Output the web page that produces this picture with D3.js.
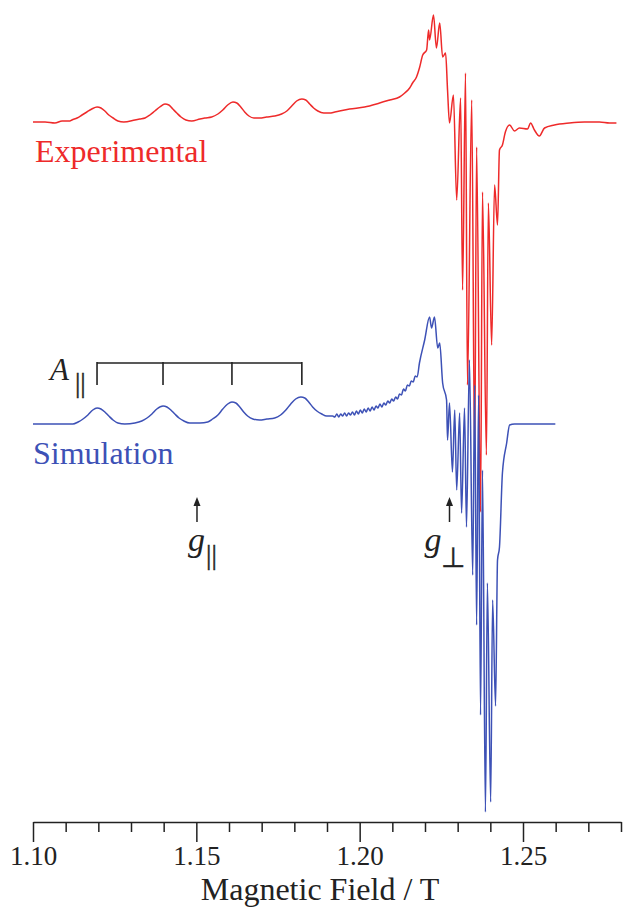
<!DOCTYPE html>
<html>
<head>
<meta charset="utf-8">
<script src="https://cdn.jsdelivr.net/npm/d3@7"></script>
<style>
body { margin: 0; background: #fff; }
svg { display: block; background: #fff; }
</style>
</head>
<body>
<svg width="624" height="909"></svg>
<script>
// magnetic field (T) and signal (arb. units)
var expField = [1.1000, 1.1037, 1.1067, 1.1089, 1.1113,
    1.1119, 1.1135, 1.1150, 1.1165, 1.1180, 1.1196, 1.1208, 1.1220, 1.1232, 1.1245, 1.1260, 1.1278,
    1.1312, 1.1327, 1.1343, 1.1358, 1.1373, 1.1388, 1.1404, 1.1416, 1.1428, 1.1440, 1.1453, 1.1468, 1.1486,
    1.1511, 1.1526, 1.1547, 1.1566, 1.1581, 1.1596, 1.1612, 1.1624, 1.1636, 1.1648, 1.1661, 1.1676, 1.1694,
    1.1715, 1.1740, 1.1761, 1.1777, 1.1792, 1.1807, 1.1823, 1.1835, 1.1847, 1.1859, 1.1872, 1.1890, 1.1908,
    1.1924, 1.1969, 1.2015, 1.2061, 1.2092, 1.2122, 1.2138, 1.2153, 1.2162, 1.2174, 1.2183,
    1.2193, 1.2205, 1.2211, 1.2214, 1.2226, 1.2235, 1.2245, 1.2254, 1.2263, 1.2269, 1.2275,
    1.2287, 1.2297, 1.2309, 1.2315, 1.2324, 1.2330, 1.2343, 1.2352, 1.2358, 1.2370, 1.2376,
    1.2388, 1.2394, 1.2404, 1.2413, 1.2422, 1.2428, 1.2437, 1.2446, 1.2459, 1.2474, 1.2489,
    1.2514, 1.2523, 1.2535, 1.2550, 1.2566, 1.2596, 1.2642, 1.2688, 1.2734, 1.2765, 1.2786];
var expSignal = [0, 0, -1, 1, 1,
    2, 4, 7, 10, 13, 15, 14, 11, 7, 4, 1, 0,
    2, 3, 4, 7, 11, 15, 18, 17, 13, 9, 5, 2, 1,
    3, 4, 5, 8, 12, 17, 20, 19, 15, 10, 6, 4, 4,
    5, 6, 8, 11, 16, 21, 23, 22, 18, 14, 11, 9, 9,
    10, 13, 15, 19, 22, 25, 29, 34, 39, 45, 54,
    67, 72, 92, 82, 107, 74, 99, 65, 69, 32, -1,
    27, -78, 24, -168, 49, -263, 22, -338, -25, -390, -70,
    -333, -81, -223, -63, -103, -28, -23, -10, -3, -9, -6,
    -7, -1, -8, -14, -6, -3, -1, 0, 0, -1, -1];

var simField = [1.1000, 1.1122, 1.1138, 1.1153, 1.1168, 1.1183, 1.1196, 1.1208, 1.1220, 1.1232,
    1.1245, 1.1260, 1.1281, 1.1312, 1.1333, 1.1349, 1.1364, 1.1379, 1.1398, 1.1410,
    1.1422, 1.1434, 1.1447, 1.1462, 1.1480, 1.1511, 1.1535, 1.1550, 1.1566, 1.1581,
    1.1596, 1.1609, 1.1621, 1.1633, 1.1645, 1.1657, 1.1673, 1.1694, 1.1716, 1.1740,
    1.1758, 1.1774, 1.1789, 1.1804, 1.1820, 1.1832, 1.1844, 1.1856, 1.1869, 1.1884,
    1.1899, 1.1917,
    1.1924, 1.1930, 1.1936, 1.1942, 1.1948, 1.1954, 1.1960, 1.1966, 1.1972, 1.1978,
    1.1984, 1.1990, 1.1996, 1.2002, 1.2008, 1.2014, 1.2020, 1.2026, 1.2032, 1.2038,
    1.2044, 1.2050, 1.2056, 1.2062, 1.2068, 1.2074, 1.2080, 1.2086, 1.2092, 1.2098,
    1.2104, 1.2110, 1.2116, 1.2122, 1.2128, 1.2134, 1.2140, 1.2146, 1.2152, 1.2158,
    1.2164, 1.2170, 1.2176,
    1.2183, 1.2199, 1.2214, 1.2220, 1.2229, 1.2239, 1.2245, 1.2254, 1.2266, 1.2269,
    1.2275, 1.2284, 1.2291, 1.2297, 1.2306, 1.2312, 1.2321, 1.2327, 1.2336, 1.2346,
    1.2352, 1.2358, 1.2364, 1.2370, 1.2376, 1.2385, 1.2391, 1.2401, 1.2407, 1.2416,
    1.2422, 1.2428, 1.2437, 1.2450, 1.2459, 1.2474, 1.2599];
var simSignal = [0, 0, 2, 5, 9, 14, 16, 15, 12, 8,
    4, 1, 0, 1, 3, 6, 10, 15, 18, 17,
    14, 10, 6, 3, 1, 1, 2, 5, 9, 15,
    20, 22, 21, 17, 12, 8, 5, 4, 5, 6,
    9, 14, 20, 25, 27, 26, 22, 17, 13, 10,
    8, 8,
    7, 10, 7, 10, 8, 11, 8, 11, 9, 12,
    9, 13, 10, 14, 11, 15, 12, 16, 13, 17,
    14, 18, 16, 20, 17, 21, 19, 23, 21, 25,
    23, 27, 25, 30, 29, 35, 33, 39, 38, 43,
    42, 48, 47,
    61, 84, 107, 96, 107, 76, 81, 41, 24, -16,
    21, -48, 14, -66, 11, -89, 16, -103, 64, -151,
    39, -201, 29, -291, -46, -388, -159, -378, -176, -282,
    -136, -123, -49, -19, -1, 0, 0];

var majorTicks = [1.10, 1.15, 1.20, 1.25];
var minorTicks = [1.11, 1.12, 1.13, 1.14, 1.16, 1.17, 1.18, 1.19,
    1.21, 1.22, 1.23, 1.24, 1.26, 1.27, 1.28];
var hyperfineLines = [1.1196, 1.1398, 1.1609, 1.1823]; // A|| comb
var gParallel = 1.1502;
var gPerp = 1.2275;

var expColor = "#ee2a2a";
var simColor = "#3d51b6";
var ink = "#222";
var serif = "'Liberation Serif', 'Times New Roman', serif";

var svg = d3.select("svg");

var x = d3.scaleLinear().domain([1.10, 1.28]).range([33, 621]);
var y = d3.scaleLinear().domain([-400, 424]).range([824, 0]);
var expOffset = 302; // experimental trace is stacked above the simulation

var line = d3.line()
    .x(d => x(d[0]))
    .y(d => y(d[1]))
    .curve(d3.curveMonotoneX);

var expData = d3.zip(expField, expSignal.map(v => v + expOffset));
var simData = d3.zip(simField, simSignal);

// traces
svg.append("path")
    .datum(expData)
    .attr("d", line)
    .attr("fill", "none")
    .attr("stroke", expColor)
    .attr("stroke-width", 1.5)
    .attr("stroke-linejoin", "round");

svg.append("path")
    .datum(simData)
    .attr("d", line)
    .attr("fill", "none")
    .attr("stroke", simColor)
    .attr("stroke-width", 1.5)
    .attr("stroke-linejoin", "round");

// trace labels
svg.append("text")
    .attr("x", 35).attr("y", 162)
    .attr("font-family", serif).attr("font-size", 32)
    .attr("fill", expColor)
    .text("Experimental");

svg.append("text")
    .attr("x", 33).attr("y", 464)
    .attr("font-family", serif).attr("font-size", 32)
    .attr("fill", simColor)
    .text("Simulation");

// A|| stick diagram
var bracket = svg.append("g").attr("stroke", ink).attr("stroke-width", 1.6);
bracket.append("line")
    .attr("x1", x(hyperfineLines[0])).attr("x2", x(hyperfineLines[hyperfineLines.length - 1]))
    .attr("y1", 363).attr("y2", 363);
bracket.selectAll(".stick")
    .data(hyperfineLines)
    .enter().append("line")
    .attr("class", "stick")
    .attr("x1", d => x(d)).attr("x2", d => x(d))
    .attr("y1", 362).attr("y2", 385);

var aLab = svg.append("text")
    .attr("x", 50).attr("y", 380)
    .attr("font-family", serif).attr("fill", ink);
aLab.append("tspan").attr("font-size", 31).attr("font-style", "italic").text("A");
aLab.append("tspan").attr("font-size", 27).attr("dx", 6).attr("dy", 12)
    .attr("stroke", ink).attr("stroke-width", 0.4).text("||");

// g markers
function gArrow(field, main, sub, textDx, subSize, subDx, subDy) {
    var gx = x(field);
    svg.append("line")
        .attr("x1", gx).attr("x2", gx)
        .attr("y1", 522).attr("y2", 504)
        .attr("stroke", ink).attr("stroke-width", 1.5);
    svg.append("path")
        .attr("d", d3.line()([[gx - 3.5, 506], [gx, 497], [gx + 3.5, 506]]) + "Z")
        .attr("fill", ink);
    var t = svg.append("text")
        .attr("x", gx + textDx).attr("y", 551)
        .attr("font-family", serif).attr("fill", ink);
    t.append("tspan").attr("font-size", 34).attr("font-style", "italic").text(main);
    t.append("tspan").attr("font-size", subSize).attr("dx", subDx).attr("dy", subDy)
        .attr("stroke", ink).attr("stroke-width", 0.4).text(sub);
}
gArrow(gParallel, "g", "||", -9, 27, 1, 13);
gArrow(gPerp, "g", "\u22A5", -25, 28, -1, 16);

// x axis
var axisY = 822;
var minor = svg.append("g")
    .attr("transform", "translate(0," + axisY + ")")
    .call(d3.axisBottom(x).tickValues(minorTicks).tickSize(10).tickSizeOuter(0).tickFormat(""));
minor.select(".domain").remove();

var major = svg.append("g")
    .attr("transform", "translate(0," + axisY + ")")
    .call(d3.axisBottom(x).tickValues(majorTicks).tickSize(20).tickSizeOuter(0)
        .tickPadding(4).tickFormat(d3.format(".2f")));

svg.selectAll(".tick line").attr("stroke", ink).attr("stroke-width", 1.5);
major.select(".domain").attr("stroke", ink).attr("stroke-width", 1.5);
major.selectAll("text")
    .attr("font-family", serif)
    .attr("font-size", 27)
    .attr("fill", ink);

svg.append("text")
    .attr("x", 320).attr("y", 900)
    .attr("text-anchor", "middle")
    .attr("font-family", serif).attr("font-size", 32)
    .attr("fill", ink)
    .text("Magnetic Field / T");
</script>
</body>
</html>
